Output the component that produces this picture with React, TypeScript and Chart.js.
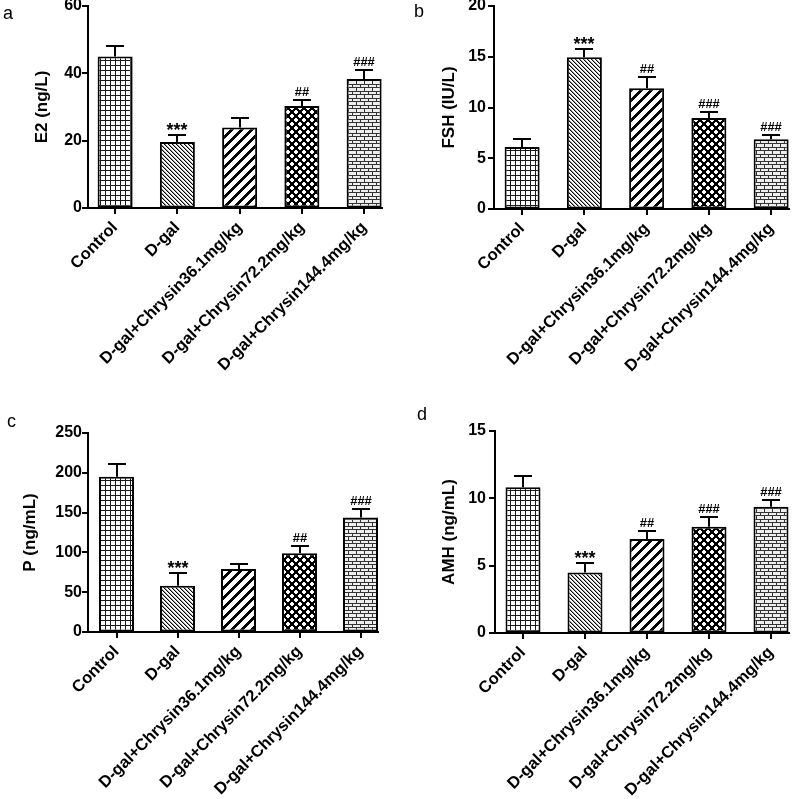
import React, { useEffect, useRef } from "react";
import { Chart, registerables } from "chart.js";

Chart.register(...registerables);

// ---------- data ----------
const categories = [
  "Control",
  "D-gal",
  "D-gal+Chrysin36.1mg/kg",
  "D-gal+Chrysin72.2mg/kg",
  "D-gal+Chrysin144.4mg/kg",
];

const e2Values = [45.0, 19.6, 23.9, 30.3, 38.3];
const e2Errors = [3.2, 2.0, 2.8, 1.8, 2.6];
const e2Marks = ["", "***", "", "##", "###"];

const fshValues = [6.1, 14.95, 11.9, 8.97, 6.87];
const fshErrors = [0.8, 0.8, 1.1, 0.6, 0.42];
const fshMarks = ["", "***", "##", "###", "###"];

const pValues = [195, 58, 79, 99, 144];
const pErrors = [16, 16, 6, 9, 10.5];
const pMarks = ["", "***", "", "##", "###"];

const amhValues = [10.82, 4.5, 6.98, 7.89, 9.38];
const amhErrors = [0.84, 0.67, 0.62, 0.74, 0.49];
const amhMarks = ["", "***", "##", "###", "###"];

const e2Axis = { max: 60, step: 20 };
const fshAxis = { max: 20, step: 5 };
const pAxis = { max: 250, step: 50 };
const amhAxis = { max: 15, step: 5 };

// ---------- layout ----------
type PanelSpec = {
  letter: string;
  title: string;
  values: number[];
  errors: number[];
  marks: string[];
  yMax: number;
  yStep: number;
  x: number;
  y: number;
  w: number;
  h: number;
  areaLeft: number;
  areaRight: number;
  areaTop: number;
  areaBottom: number;
  axisX: number;
  tickGap: number;
  titleX: number;
  letterX: number;
  letterY: number;
};

const FONT = '"Liberation Sans", Arial, Helvetica, sans-serif';

const panels: PanelSpec[] = [
  {
    letter: "a", title: "E2 (ng/L)", values: e2Values, errors: e2Errors, marks: e2Marks,
    yMax: e2Axis.max, yStep: e2Axis.step,
    x: 0, y: 0, w: 400, h: 400,
    areaLeft: 84, areaRight: 395.25, areaTop: 6, areaBottom: 208,
    axisX: 88, tickGap: 2, titleX: 42, letterX: 3, letterY: 19,
  },
  {
    letter: "b", title: "FSH (IU/L)", values: fshValues, errors: fshErrors, marks: fshMarks,
    yMax: fshAxis.max, yStep: fshAxis.step,
    x: 400, y: 0, w: 410, h: 400,
    areaLeft: 91, areaRight: 402.25, areaTop: 6, areaBottom: 209,
    axisX: 94, tickGap: 5, titleX: 49, letterX: 14, letterY: 17,
  },
  {
    letter: "c", title: "P (ng/mL)", values: pValues, errors: pErrors, marks: pMarks,
    yMax: pAxis.max, yStep: pAxis.step,
    x: 0, y: 400, w: 400, h: 399,
    areaLeft: 86, areaRight: 391, areaTop: 33, areaBottom: 232,
    axisX: 88, tickGap: 4, titleX: 30, letterX: 7, letterY: 27,
  },
  {
    letter: "d", title: "AMH (ng/mL)", values: amhValues, errors: amhErrors, marks: amhMarks,
    yMax: amhAxis.max, yStep: amhAxis.step,
    x: 400, y: 400, w: 410, h: 399,
    areaLeft: 92, areaRight: 402, areaTop: 31, areaBottom: 233,
    axisX: 95, tickGap: 6, titleX: 49.5, letterX: 17, letterY: 20,
  },
];

// ---------- patterns ----------
function tile(w: number, h: number, draw: (ctx: CanvasRenderingContext2D) => void): CanvasPattern {
  const c = document.createElement("canvas");
  c.width = w;
  c.height = h;
  const ctx = c.getContext("2d")!;
  draw(ctx);
  return ctx.createPattern(c, "repeat")!;
}

function makePatterns(): CanvasPattern[] {
  const grid = tile(5, 5, (ctx) => {
    ctx.fillStyle = "#fff";
    ctx.fillRect(0, 0, 5, 5);
    ctx.fillStyle = "#1a1a1a";
    ctx.fillRect(0, 0, 5, 1);
    ctx.fillRect(0, 0, 1, 5);
  });
  const thin = tile(4, 4, (ctx) => {
    ctx.fillStyle = "#fff";
    ctx.fillRect(0, 0, 4, 4);
    for (let i = 0; i < 4; i++) {
      ctx.fillStyle = "#000";
      ctx.fillRect(i, i, 1, 1);
      ctx.fillStyle = "#999";
      ctx.fillRect((i + 1) % 4, i, 1, 1);
    }
  });
  const thick = tile(10, 10, (ctx) => {
    ctx.fillStyle = "#fff";
    ctx.fillRect(0, 0, 10, 10);
    ctx.fillStyle = "#000";
    for (let yy = 0; yy < 10; yy++) {
      for (let k = 0; k < 4; k++) {
        ctx.fillRect((9 - yy + k + 10) % 10, yy, 1, 1);
      }
    }
  });
  const cross = tile(8, 8, (ctx) => {
    ctx.fillStyle = "#000";
    ctx.fillRect(0, 0, 8, 8);
    ctx.fillStyle = "#fff";
    for (let yy = 0; yy < 8; yy++) {
      for (let xx = 0; xx < 8; xx++) {
        const px = xx + 0.5;
        const py = yy + 0.5;
        const d1 = Math.abs(px - 4) + Math.abs(py - 4);
        const dx = Math.min(px, 8 - px);
        const dy = Math.min(py, 8 - py);
        const d2 = dx + dy;
        if (Math.min(d1, d2) <= 2) ctx.fillRect(xx, yy, 1, 1);
      }
    }
  });
  const brick = tile(8, 7, (ctx) => {
    ctx.fillStyle = "#eeeeee";
    ctx.fillRect(0, 0, 8, 7);
    ctx.fillStyle = "#333";
    ctx.fillRect(0, 0, 8, 1);
    ctx.fillRect(0, 3, 8, 1);
    ctx.fillRect(0, 0, 1, 3);
    ctx.fillRect(4, 3, 1, 4);
  });
  return [grid, thin, thick, cross, brick];
}

// ---------- panel ----------
function Panel({ spec }: { spec: PanelSpec }) {
  const ref = useRef<HTMLCanvasElement>(null);

  useEffect(() => {
    const canvas = ref.current!;
    const patterns = makePatterns();
    const catW = (spec.areaRight - spec.areaLeft) / categories.length;

    const custom = {
      id: "custom_" + spec.letter,
      afterDatasetsDraw(chart: any) {
        const ctx: CanvasRenderingContext2D = chart.ctx;
        const meta = chart.getDatasetMeta(0);
        const ys = chart.scales.y;
        ctx.save();
        ctx.strokeStyle = "#000";
        ctx.lineWidth = 2;
        ctx.lineCap = "butt";
        spec.values.forEach((v, i) => {
          const bar = meta.data[i];
          const cx = Math.round(bar.x);
          const top = ys.getPixelForValue(v);
          const et = Math.round(ys.getPixelForValue(v + spec.errors[i]));
          ctx.beginPath();
          ctx.moveTo(cx, top);
          ctx.lineTo(cx, et);
          ctx.moveTo(cx - 9, et);
          ctx.lineTo(cx + 9, et);
          ctx.stroke();
          const m = spec.marks[i];
          if (m) {
            ctx.fillStyle = "#000";
            ctx.textAlign = "center";
            ctx.textBaseline = "alphabetic";
            if (m.startsWith("*")) {
              ctx.font = `bold 18px ${FONT}`;
              ctx.fillText(m, cx, et + 1);
            } else {
              ctx.font = `bold 13px ${FONT}`;
              ctx.fillText(m, cx, et - 4);
            }
          }
        });
        ctx.restore();
      },
      afterDraw(chart: any) {
        const ctx: CanvasRenderingContext2D = chart.ctx;
        const ys = chart.scales.y;
        const meta = chart.getDatasetMeta(0);
        const bottom = Math.round(ys.getPixelForValue(0));
        const topPx = Math.round(ys.getPixelForValue(spec.yMax));
        const ax = spec.axisX;
        ctx.save();
        ctx.strokeStyle = "#000";
        ctx.lineWidth = 2;
        // y axis line
        ctx.beginPath();
        ctx.moveTo(ax, topPx - 1);
        ctx.lineTo(ax, bottom + 1);
        ctx.stroke();
        // y ticks
        ys.ticks.forEach((t: any) => {
          const py = Math.round(ys.getPixelForValue(t.value));
          ctx.beginPath();
          ctx.moveTo(ax - 6, py);
          ctx.lineTo(ax, py);
          ctx.stroke();
        });
        // x axis line
        const last = meta.data[meta.data.length - 1];
        const xEnd = Math.round(last.x + last.width / 2) + 1;
        ctx.beginPath();
        ctx.moveTo(ax - 1, bottom);
        ctx.lineTo(xEnd, bottom);
        ctx.stroke();
        // x ticks
        meta.data.forEach((b: any) => {
          const cx = Math.round(b.x);
          ctx.beginPath();
          ctx.moveTo(cx, bottom);
          ctx.lineTo(cx, bottom + 6);
          ctx.stroke();
        });
        // y title
        ctx.fillStyle = "#000";
        ctx.font = `bold 17px ${FONT}`;
        ctx.textAlign = "center";
        ctx.textBaseline = "middle";
        ctx.translate(spec.titleX, (spec.areaTop + spec.areaBottom) / 2);
        ctx.rotate(-Math.PI / 2);
        ctx.fillText(spec.title, 0, 0);
        ctx.restore();
        // panel letter
        ctx.save();
        ctx.fillStyle = "#000";
        ctx.font = `18px ${FONT}`;
        ctx.textAlign = "left";
        ctx.textBaseline = "alphabetic";
        ctx.fillText(spec.letter, spec.letterX, spec.letterY);
        ctx.restore();
      },
    };

    const chart = new Chart(canvas, {
      type: "bar",
      data: {
        labels: categories,
        datasets: [
          {
            data: spec.values,
            backgroundColor: patterns as any,
            borderColor: "#000",
            borderWidth: 2,
            borderSkipped: false,
            barPercentage: 35 / catW,
            categoryPercentage: 1,
          },
        ],
      },
      options: {
        responsive: false,
        animation: false,
        devicePixelRatio: 1,
        layout: {
          padding: { left: 0, top: spec.areaTop, right: spec.w - spec.areaRight, bottom: 0 },
        },
        plugins: {
          legend: { display: false },
          tooltip: { enabled: false },
          title: { display: false },
        },
        scales: {
          x: {
            type: "category",
            offset: true,
            border: { display: false },
            grid: {
              display: true,
              drawOnChartArea: false,
              drawTicks: true,
              tickLength: 6,
              offset: false,
              color: "rgba(0,0,0,0)",
            },
            ticks: {
              autoSkip: false,
              maxRotation: 45,
              minRotation: 45,
              padding: 4,
              color: "#000",
              font: { family: FONT, size: 16.5, weight: "bold" },
            },
            afterFit: (s: any) => {
              s.height = spec.h - spec.areaBottom;
              s.paddingLeft = 0;
              s.paddingRight = 0;
              s.paddingTop = 0;
              s.paddingBottom = 0;
            },
          },
          y: {
            min: 0,
            max: spec.yMax,
            border: { display: false },
            grid: {
              display: true,
              drawOnChartArea: false,
              drawTicks: true,
              tickLength: spec.tickGap,
              color: "rgba(0,0,0,0)",
            },
            ticks: {
              stepSize: spec.yStep,
              padding: 0,
              color: "#000",
              font: { family: FONT, size: 16, weight: "bold" },
            },
            afterFit: (s: any) => {
              s.width = spec.areaLeft;
              s.paddingTop = 0;
              s.paddingBottom = 0;
              s.paddingLeft = 0;
              s.paddingRight = 0;
            },
          },
        },
      } as any,
      plugins: [custom],
    });

    return () => chart.destroy();
  }, [spec]);

  return (
    <canvas
      ref={ref}
      width={spec.w}
      height={spec.h}
      style={{
        position: "absolute",
        left: spec.x,
        top: spec.y,
        width: spec.w,
        height: spec.h,
      }}
    />
  );
}

export default function App() {
  return (
    <div
      style={{
        position: "absolute",
        left: 0,
        top: 0,
        width: 800,
        height: 799,
        overflow: "hidden",
        background: "#fff",
      }}
    >
      {panels.map((p) => (
        <Panel key={p.letter} spec={p} />
      ))}
    </div>
  );
}
